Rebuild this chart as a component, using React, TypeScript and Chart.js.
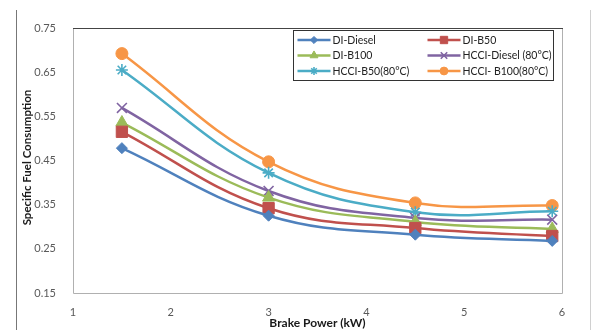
import React, { useEffect, useRef } from "react";
import { Chart, registerables } from "chart.js";
import { drawPoint } from "chart.js/helpers";

Chart.register(...registerables);

// ---- data ----
const brakePower = [1.5, 3, 4.5, 5.9];
const seriesLabels = [
  "DI-Diesel",
  "DI-B50",
  "DI-B100",
  "HCCI-Diesel (80\u00B0C)",
  "HCCI-B50(80\u00B0C)",
  "HCCI- B100(80\u00B0C)",
];
const diDiesel = [0.478, 0.325, 0.282, 0.268];
const diB50 = [0.515, 0.342, 0.297, 0.279];
const diB100 = [0.536, 0.366, 0.311, 0.295];
const hcciDiesel = [0.569, 0.381, 0.32, 0.316];
const hcciB50 = [0.655, 0.422, 0.333, 0.335];
const hcciB100 = [0.692, 0.447, 0.354, 0.348];
const yTickValues = [0.15, 0.25, 0.35, 0.45, 0.55, 0.65, 0.75];
const xTickValues = [1, 2, 3, 4, 5, 6];
const xTitle = "Brake Power (kW)";
const yTitle = "Specific Fuel Consumption";

const FONT = "Lato, 'Open Sans', sans-serif";

const styles = [
  { color: "#4F81BD", pointStyle: "rectRot", radius: 5.5, bw: 1 },
  { color: "#C0504D", pointStyle: "rect", radius: 8, bw: 1 },
  { color: "#9BBB59", pointStyle: "triangle", radius: 7, bw: 1 },
  { color: "#8064A2", pointStyle: "crossRot", radius: 7, bw: 1.6 },
  { color: "#4BACC6", pointStyle: "star", radius: 6, bw: 1.6 },
  { color: "#F79646", pointStyle: "circle", radius: 6, bw: 1 },
];

const seriesValues = [diDiesel, diB50, diB100, hcciDiesel, hcciB50, hcciB100];

const framePlugin = {
  id: "frame",
  beforeDatasetsDraw(chart: any) {
    const { ctx, chartArea } = chart;
    const { left, right, top, bottom } = chartArea;
    ctx.save();
    ctx.lineWidth = 1;
    ctx.strokeStyle = "#b0b0b0";
    ctx.beginPath();
    ctx.moveTo(left + 0.5, top);
    ctx.lineTo(left + 0.5, bottom + 0.5);
    ctx.lineTo(right + 0.5, bottom + 0.5);
    ctx.lineTo(right + 0.5, top);
    ctx.stroke();
    ctx.strokeStyle = "#444";
    ctx.beginPath();
    ctx.moveTo(left, top + 0.5);
    ctx.lineTo(right + 1, top + 0.5);
    ctx.stroke();
    // outer image frame
    ctx.strokeStyle = "#777";
    ctx.beginPath();
    ctx.moveTo(16.5, 10);
    ctx.lineTo(16.5, chart.height);
    ctx.stroke();
    ctx.strokeStyle = "#d0d0d0";
    ctx.beginPath();
    ctx.moveTo(590.5, 10);
    ctx.lineTo(590.5, chart.height);
    ctx.stroke();
    ctx.restore();
  },
  afterDraw(chart: any) {
    const { ctx, chartArea } = chart;
    const { left, right, top, bottom } = chartArea;
    ctx.save();
    // axis titles
    ctx.fillStyle = "#1a1a1a";
    ctx.font = `bold 12px ${FONT}`;
    ctx.textAlign = "center";
    ctx.textBaseline = "middle";
    ctx.fillText(xTitle, (left + right) / 2, bottom + 30);
    ctx.translate(27, (top + bottom) / 2 - 3);
    ctx.rotate(-Math.PI / 2);
    ctx.font = `bold 11.5px ${FONT}`;
    ctx.fillText(yTitle, 0, 0);
    ctx.restore();

    // legend
    ctx.save();
    const bx = left + 220.5;
    const by = top + 2.5;
    const bw = 260;
    const bh = 50;
    ctx.fillStyle = "#fff";
    ctx.fillRect(bx, by, bw, bh);
    ctx.strokeStyle = "#333";
    ctx.lineWidth = 1;
    ctx.strokeRect(bx, by, bw, bh);
    chart.data.datasets.forEach((ds: any, i: number) => {
      const col = i % 2;
      const row = Math.floor(i / 2);
      const x0 = bx + 4 + col * 130;
      const y0 = by + 9.5 + row * 15.5;
      ctx.strokeStyle = ds.borderColor;
      ctx.lineWidth = 2.5;
      ctx.beginPath();
      ctx.moveTo(x0, y0);
      ctx.lineTo(x0 + 33, y0);
      ctx.stroke();
      ctx.fillStyle = ds.pointBackgroundColor;
      ctx.strokeStyle = ds.pointBorderColor;
      ctx.lineWidth = ds.pointBorderWidth;
      drawPoint(
        ctx,
        { pointStyle: ds.pointStyle, radius: ds.pointRadius * 0.65, rotation: 0, borderWidth: ds.pointBorderWidth },
        x0 + 16.5,
        y0
      );
      ctx.fillStyle = "#222";
      ctx.font = `10.5px ${FONT}`;
      ctx.textAlign = "left";
      ctx.textBaseline = "middle";
      ctx.fillText(ds.label, x0 + 35, y0 + 0.5);
    });
    ctx.restore();
  },
};

export default function App() {
  const ref = useRef<HTMLCanvasElement | null>(null);
  useEffect(() => {
    document.body.style.margin = "0";
    const canvas = ref.current;
    if (!canvas) return;
    const chart = new Chart(canvas, {
      type: "line",
      data: {
        datasets: seriesValues.map((vals, i) => ({
          label: seriesLabels[i],
          data: vals.map((v, j) => ({ x: brakePower[j], y: v })),
          borderColor: styles[i].color,
          backgroundColor: styles[i].color,
          pointBackgroundColor: styles[i].color,
          pointBorderColor: styles[i].color,
          pointBorderWidth: styles[i].bw,
          pointStyle: styles[i].pointStyle as any,
          pointRadius: styles[i].radius,
          borderWidth: 2.5,
          tension: 0.4,
          fill: false,
        })),
      },
      options: {
        animation: false,
        responsive: false,
        maintainAspectRatio: false,
        layout: { padding: { left: 0, right: 30, top: 28, bottom: 0 } },
        plugins: { legend: { display: false }, tooltip: { enabled: false } },
        scales: {
          x: {
            type: "linear",
            min: 1,
            max: 6,
            grid: { display: false, drawTicks: false },
            border: { display: false },
            afterBuildTicks: (scale: any) => {
              scale.ticks = xTickValues.map((v) => ({ value: v }));
            },
            afterFit: (scale: any) => {
              scale.height = 37;
            },
            ticks: {
              padding: 13,
              color: "#595959",
              font: { family: FONT, size: 11 },
              callback: (v: any) => String(v),
            },
          },
          y: {
            type: "linear",
            min: 0.15,
            max: 0.75,
            grid: { display: false, drawTicks: false },
            border: { display: false },
            afterBuildTicks: (scale: any) => {
              scale.ticks = yTickValues.map((v) => ({ value: v }));
            },
            afterFit: (scale: any) => {
              scale.width = 73;
            },
            ticks: {
              padding: 17,
              color: "#595959",
              font: { family: FONT, size: 11 },
              callback: (v: any) => Number(v).toFixed(2),
            },
          },
        },
      },
      plugins: [framePlugin],
    });
    return () => chart.destroy();
  }, []);
  return (
    <div style={{ width: 592, height: 330 }}>
      <canvas ref={ref} width={592} height={330} style={{ display: "block" }} />
    </div>
  );
}
